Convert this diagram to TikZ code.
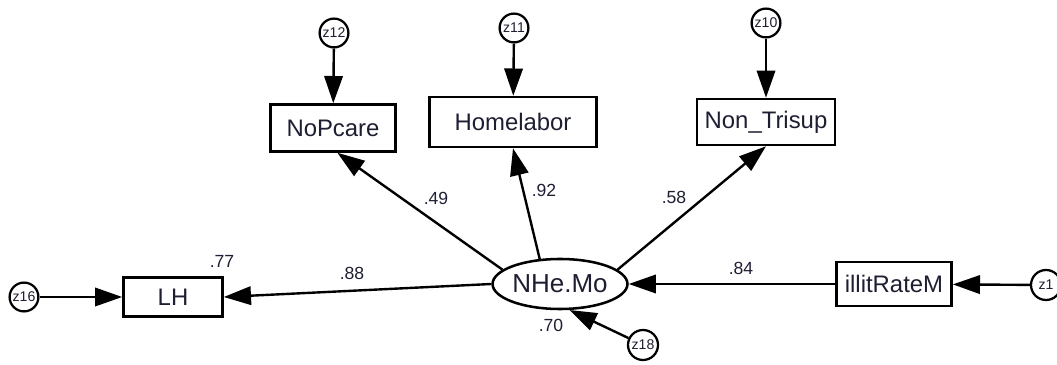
\documentclass[tikz,border=0pt]{standalone}
\usepackage{fontspec}
\setmainfont{Liberation Sans}
\usepackage{xcolor}
\usetikzlibrary{arrows.meta,shapes.geometric}

\definecolor{txtcol}{RGB}{30,30,50}

\begin{document}
\begin{tikzpicture}[x=0.025cm,y=-0.025cm]
\tikzset{obsvar/.style={draw,rectangle,line width=1.8pt,inner sep=0pt,text=txtcol,font=\fontsize{17}{20}\selectfont}}
\tikzset{latvar/.style={draw,ellipse,line width=1.8pt,inner sep=0pt,minimum width=2.85cm,minimum height=1.25cm,text=txtcol,font=\fontsize{18.5}{20}\selectfont}}
\tikzset{errvar/.style={draw,circle,line width=1.6pt,inner sep=0pt,minimum size=0.72cm,text=txtcol,font=\fontsize{10}{11}\selectfont}}
\tikzset{coef/.style={text=txtcol,font=\fontsize{12.5}{14}\selectfont}}
\tikzset{regarrow/.style={line width=1.7pt,-{Triangle[length=0.68cm,width=0.46cm]}}}

\useasboundingbox (0,0) rectangle (1057,365);

% variables
\node[obsvar,minimum width=3.125cm,minimum height=1.175cm] (NoPcare) at (333,128) {NoPcare};
\node[obsvar,minimum width=4.175cm,minimum height=1.25cm] (Homelabor) at (513,122) {Homelabor};
\node[obsvar,minimum width=3.45cm,minimum height=1.15cm] (NonTrisup) at (766,122) {Non\_Trisup};
\node[obsvar,minimum width=2.475cm,minimum height=0.975cm] (LH) at (173,297) {LH};
\node[obsvar,minimum width=2.875cm,minimum height=1.1cm] (illitRateM) at (894,284) {illitRateM};
\node[latvar] (NHeMo) at (560,284) {NHe.Mo};

% error terms
\node[errvar] (z12) at (334,33) {z12};
\node[errvar] (z11) at (514,28) {z11};
\node[errvar] (z10) at (766,23) {z10};
\node[errvar] (z16) at (24,297) {z16};
\node[errvar,minimum size=0.75cm] (z1) at (1046,285) {z1};
\node[errvar,minimum size=0.75cm] (z18) at (643,345) {z18};

% paths
\draw[regarrow] (z12) -- (NoPcare);
\draw[regarrow] (z11) -- (Homelabor);
\draw[regarrow] (z10) -- (NonTrisup);
\draw[regarrow] (z16) -- (LH);
\draw[regarrow] (z1) -- (illitRateM);
\draw[regarrow] (z18) -- (NHeMo.-70);
\draw[regarrow] (NHeMo.166) -- (NoPcare.-80);
\draw[regarrow] (NHeMo.129) -- (Homelabor.south);
\draw[regarrow] (NHeMo.14) -- (NonTrisup.south);
\draw[regarrow] (NHeMo.west) -- (LH.east);
\draw[regarrow] (illitRateM.west) -- (NHeMo.east);

% coefficients
\node[coef] (cLH) at (222,261) {.77};
\node[coef] (cNHeMo) at (551,325) {.70};
\node[coef] (cLHp) at (352,273) {.88};
\node[coef] (cNoPcare) at (436,198) {.49};
\node[coef] (cHomelabor) at (544,190) {.92};
\node[coef] (cNonTrisup) at (674,197) {.58};
\node[coef] (cillit) at (741,268) {.84};

\end{tikzpicture}
\end{document}
